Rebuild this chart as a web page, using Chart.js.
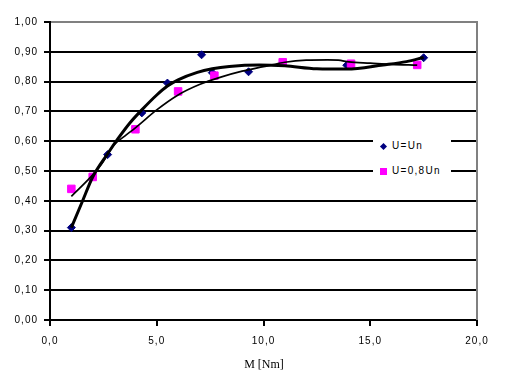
<!DOCTYPE html>
<html>
<head>
<meta charset="utf-8">
<script src="https://cdn.jsdelivr.net/npm/chart.js@4/dist/chart.umd.min.js"></script>
<style>
  body { margin: 0; background: #fff; }
  #wrap { position: relative; width: 512px; height: 387px; }
  #legend { position: absolute; left: 373px; top: 136px; width: 78px; height: 44px; background: #fff; }
  .lg-text { position: absolute; left: 19px; font: 10px "Liberation Sans", Arial, sans-serif; letter-spacing: 1.3px; line-height: 12px; color: #000; white-space: nowrap; }
  .diamond { position: absolute; width: 5px; height: 5px; background: #000080; transform: rotate(45deg); }
  .square { position: absolute; width: 7px; height: 7px; background: #ff00ff; }
  #xtitle { position: absolute; left: 0; width: 528px; top: 356px; text-align: center; font: 12px "Liberation Serif", "Times New Roman", serif; line-height: 16px; color: #000; }
</style>
</head>
<body>
<div id="wrap">
  <canvas id="chart" width="512" height="387"></canvas>
  <div id="legend">
    <div class="diamond" style="left:7.5px;top:7.5px"></div>
    <div class="lg-text" style="top:4px">U=Un</div>
    <div class="square" style="left:6.5px;top:31.5px"></div>
    <div class="lg-text" style="top:29px">U=0,8Un</div>
  </div>
  <div id="xtitle">M [Nm]</div>
</div>
<script>
// measured points
const unX = [1.0, 2.7, 4.3, 5.5, 7.1, 7.6, 9.3, 13.9, 17.5];
const unY = [0.31, 0.555, 0.695, 0.795, 0.89, 0.83, 0.833, 0.855, 0.88];
const u08X = [1.0, 2.0, 4.0, 6.0, 7.7, 10.9, 14.1, 17.2];
const u08Y = [0.44, 0.48, 0.64, 0.767, 0.82, 0.865, 0.86, 0.856];

// trend lines
const trendUnX = [1.0, 1.5, 2.0, 2.7, 3.2, 3.75, 4.3, 5.0, 5.5, 6.0, 6.9, 7.6, 8.4, 9.8, 11.0, 12.5, 13.9, 15.6, 16.7, 17.5];
const trendUnY = [0.31, 0.395, 0.48, 0.558, 0.61, 0.662, 0.705, 0.755, 0.785, 0.806, 0.831, 0.843, 0.851, 0.856, 0.853, 0.843, 0.842, 0.856, 0.867, 0.881];
const trend08X = [1.0, 2.0, 2.4, 3.0, 3.5, 4.0, 5.0, 6.0, 7.0, 8.0, 9.0, 10.0, 11.0, 12.0, 13.0, 13.5, 14.0, 15.0, 16.0, 17.2];
const trend08Y = [0.415, 0.487, 0.522, 0.588, 0.617, 0.645, 0.705, 0.755, 0.79, 0.815, 0.835, 0.85, 0.865, 0.872, 0.873, 0.872, 0.866, 0.862, 0.858, 0.855];

const xTickLabels = ['0,0', '5,0', '10,0', '15,0', '20,0'];
const yTickLabels = ['0,00', '0,10', '0,20', '0,30', '0,40', '0,50', '0,60', '0,70', '0,80', '0,90', '1,00'];

const pts = (xs, ys) => xs.map((x, i) => ({ x: x, y: ys[i] }));

// wider glyph spacing for the tick labels
const spacing = {
    id: 'spacing',
    beforeLayout(c) { c.ctx.letterSpacing = '1px'; },
    beforeDraw(c) { c.ctx.letterSpacing = '1px'; }
};

// grey right edge of the plot area
const rightEdge = {
    id: 'rightEdge',
    beforeDatasetsDraw(c) {
        const a = c.chartArea, ctx = c.ctx;
        ctx.save();
        ctx.strokeStyle = '#808080';
        ctx.lineWidth = 2;
        ctx.beginPath();
        ctx.moveTo(a.right, a.top - 1);
        ctx.lineTo(a.right, a.bottom);
        ctx.stroke();
        ctx.restore();
    }
};

const tickFont = { family: '"Liberation Sans", Arial, sans-serif', size: 10 };

new Chart(document.getElementById('chart'), {
    type: 'scatter',
    data: {
        datasets: [
            {
                type: 'line', label: 'trend Un', data: pts(trendUnX, trendUnY),
                borderColor: '#000', borderWidth: 3, pointRadius: 0, fill: false,
                cubicInterpolationMode: 'monotone', order: 0
            },
            {
                type: 'line', label: 'trend 0,8Un', data: pts(trend08X, trend08Y),
                borderColor: '#000', borderWidth: 1.7, pointRadius: 0, fill: false,
                cubicInterpolationMode: 'monotone', order: 0
            },
            {
                label: 'U=0,8Un', data: pts(u08X, u08Y),
                pointStyle: 'rect', pointRadius: 5.3, pointBorderWidth: 1,
                backgroundColor: '#ff00ff', borderColor: '#ff00ff', order: 1
            },
            {
                label: 'U=Un', data: pts(unX, unY),
                pointStyle: 'rectRot', pointRadius: 4, pointBorderWidth: 1,
                backgroundColor: '#000080', borderColor: '#000080', order: 2
            }
        ]
    },
    options: {
        responsive: false,
        animation: false,
        events: [],
        layout: { padding: { top: 22, right: 35, left: 0, bottom: 0 } },
        plugins: { legend: { display: false }, tooltip: { enabled: false } },
        scales: {
            x: {
                type: 'linear', min: 0, max: 20,
                afterFit(s) { s.height = 67; },
                ticks: {
                    stepSize: 5, color: '#000', font: tickFont, padding: 9, maxRotation: 0,
                    callback: (v, i) => xTickLabels[i]
                },
                grid: { drawOnChartArea: false, drawTicks: true, tickLength: 6, tickColor: '#000', lineWidth: 2 },
                border: { color: '#000', width: 2 }
            },
            y: {
                min: 0, max: 1,
                afterFit(s) { s.width = 50; },
                ticks: {
                    stepSize: 0.1, color: '#000', font: tickFont, padding: 6,
                    callback: (v, i) => yTickLabels[i]
                },
                grid: {
                    color: ctx => (ctx.tick && ctx.tick.value > 0.99 ? '#808080' : '#000'),
                    tickColor: '#000', tickLength: 6, lineWidth: 2
                },
                border: { color: '#000', width: 2 }
            }
        }
    },
    plugins: [spacing, rightEdge]
});
</script>
</body>
</html>
